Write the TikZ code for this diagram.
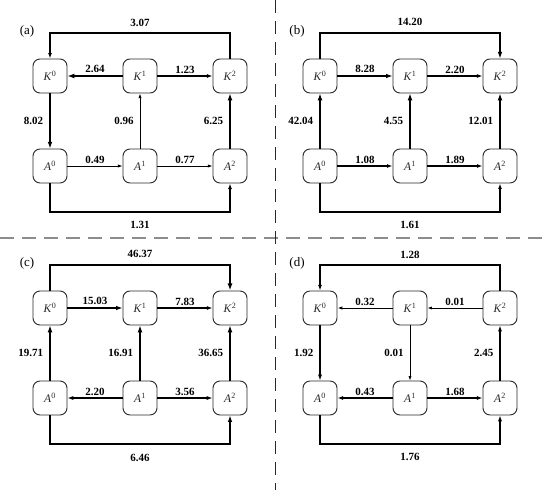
\documentclass[tikz,border=0pt]{standalone}
\usepackage{fontspec}
\setmainfont{Liberation Serif}
\usetikzlibrary{arrows.meta}
\definecolor{KfInk}{RGB}{40,40,40}
\definecolor{KfSep}{RGB}{140,140,140}
\tikzset{
  kf/box/.style={
    draw=KfInk,
    line width=0.9pt,
    rounded corners=7pt,
    fill=white,
    minimum width=34pt,
    minimum height=34pt,
    inner sep=0pt,
    text=KfInk,
    font=\fontsize{11.5}{13}\selectfont
  },
  kf/edge/.style={line width=#1, draw=black, -{Latex[length={3pt 2},width={2pt 1.5}]}},
  kf/hlab/.style={above=1pt, inner sep=1pt, font=\bfseries\fontsize{11}{12}\selectfont},
  kf/vlab/.style={left=5pt, inner sep=1pt, font=\bfseries\fontsize{11}{12}\selectfont},
  kf/toplab/.style={above=5pt, inner sep=1pt, font=\bfseries\fontsize{11}{12}\selectfont},
  kf/botlab/.style={below=8pt, inner sep=1pt, font=\bfseries\fontsize{11}{12}\selectfont},
  kf/panel/.style={font=\fontsize{13}{15}\selectfont, inner sep=0pt},
  kf/hsep/.style={draw=KfSep, line width=1.5pt, dash pattern=on 14pt off 8pt},
  kf/vsep/.style={draw=KfInk, line width=1pt, dash pattern=on 13pt off 8pt}
}

\begin{document}
\begin{tikzpicture}[x=1pt,y=-1pt]
  \useasboundingbox (0,0) rectangle (550,490);
  % separators
  \draw[kf/hsep] (0,238) -- (550,238);
  \draw[kf/vsep] (275,0) -- (275,490);
  % four panels of nodes
  \foreach \p/\dx/\dy in {a/0/0,b/270/0,c/0/232,d/270/232}
  {
    \begin{scope}[shift={(\dx,\dy)}]
      \node[kf/panel] (\p-title) at (27,31) {(\p)};
      \coordinate (\p-top) at (140,33);
      \coordinate (\p-bot) at (140,212);
      \foreach \i/\x in {0/50,1/140,2/230}
      {
        \node[kf/box] (\p-K\i) at (\x,76) {\textit{K}\textsuperscript{\i}};
        \node[kf/box] (\p-A\i) at (\x,166) {\textit{A}\textsuperscript{\i}};
      }
    \end{scope}
  }
  % horizontal flows
  \foreach \s/\t/\w/\v in {
    a-K1/a-K0/1.9/2.64,a-K1/a-K2/1.3/1.23,a-A0/a-A1/0.8/0.49,a-A1/a-A2/0.8/0.77,
    b-K0/b-K1/1.7/8.28,b-K1/b-K2/1.4/2.20,b-A0/b-A1/1.2/1.08,b-A1/b-A2/1.2/1.89,
    c-K0/c-K1/1.7/15.03,c-K1/c-K2/1.4/7.83,c-A1/c-A0/1.5/2.20,c-A1/c-A2/1.5/3.56,
    d-K1/d-K0/1.0/0.32,d-K2/d-K1/0.7/0.01,d-A1/d-A0/1.3/0.43,d-A1/d-A2/1.3/1.68}
  {\draw[kf/edge=\w] (\s) -- node[kf/hlab] {\v} (\t);}
  % vertical flows
  \foreach \s/\t/\w/\v in {
    a-K0/a-A0/1.9/8.02,a-A1/a-K1/0.8/0.96,a-A2/a-K2/1.9/6.25,
    b-A0/b-K0/1.9/42.04,b-A1/b-K1/1.9/4.55,b-A2/b-K2/1.9/12.01,
    c-A0/c-K0/1.9/19.71,c-A1/c-K1/1.9/16.91,c-A2/c-K2/1.9/36.65,
    d-K0/d-A0/1.5/1.92,d-K1/d-A1/0.7/0.01,d-A2/d-K2/1.5/2.45}
  {\draw[kf/edge=\w] (\s) -- node[kf/vlab] {\v} (\t);}
  % outer loops
  \foreach \p/\s/\t/\w/\v in {a/K2/K0/1.2/3.07,b/K0/K2/1.9/14.20,c/K0/K2/2.1/46.37,d/K2/K0/1.4/1.28}
  {\draw[kf/edge=\w] (\p-\s.north) |- (\p-top) node[kf/toplab] {\v} -| (\p-\t.north);}
  \foreach \p/\w/\v in {a/1.3/1.31,b/1.2/1.61,c/1.7/6.46,d/1.4/1.76}
  {\draw[kf/edge=\w] (\p-A0.south) |- (\p-bot) node[kf/botlab] {\v} -| (\p-A2.south);}
\end{tikzpicture}
\end{document}
